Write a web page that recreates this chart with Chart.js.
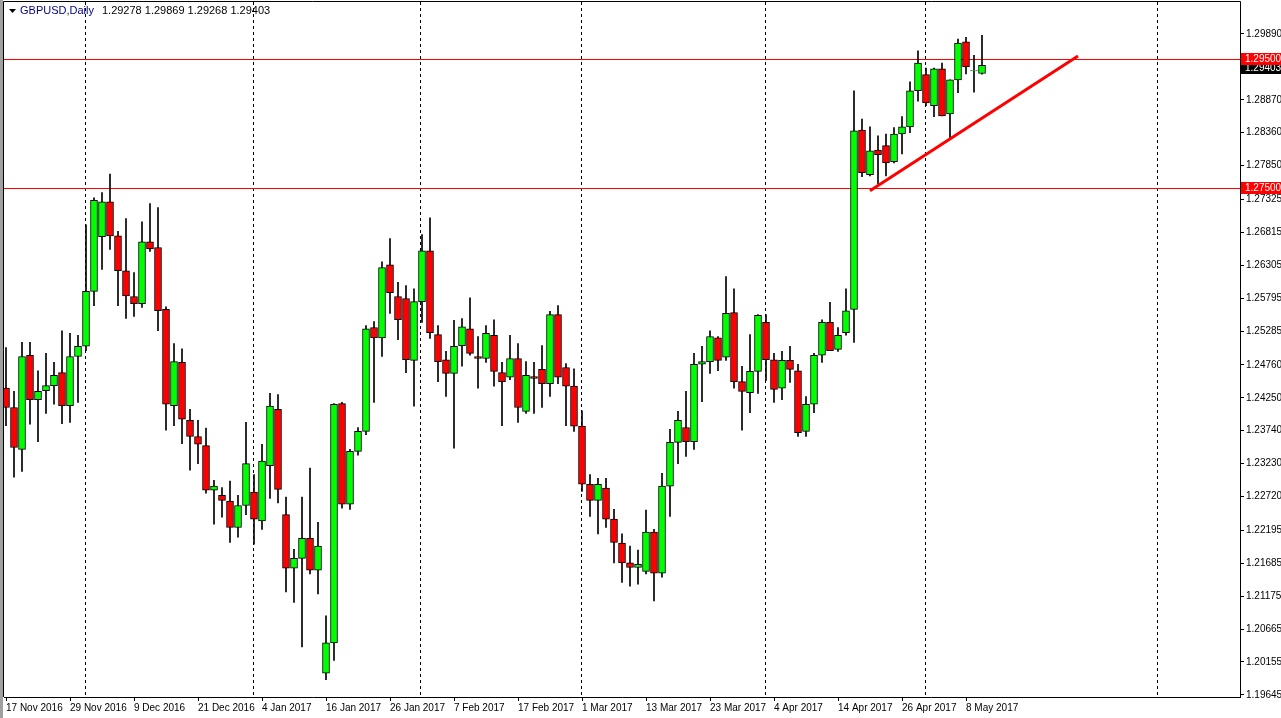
<!DOCTYPE html>
<html>
<head>
<meta charset="utf-8">
<script src="https://cdn.jsdelivr.net/npm/chart.js@4"></script>
<style>
  html, body { margin: 0; padding: 0; background: #fff; }
  #wrap { width: 1281px; height: 718px; position: relative; }
  #wrap::before { content: ""; position: absolute; left: 0; top: 0; width: 3px; height: 718px; background: #a0a0a0; }
</style>
</head>
<body>
<div id="wrap"><canvas id="myChart" width="1281" height="718"></canvas></div>
<script>
// GBPUSD daily, 17 Nov 2016 -> 10 May 2017
const opens = [
  1.2440, 1.2410, 1.2345, 1.2491, 1.2422, 1.2436, 1.2444, 1.2464, 1.2413, 1.2489,
  1.2505, 1.2590, 1.2675, 1.2729, 1.2676, 1.2622, 1.2582, 1.2571, 1.2667, 1.2658,
  1.2562, 1.2413, 1.2480, 1.2390, 1.2365, 1.2351, 1.2282, 1.2274, 1.2265, 1.2224,
  1.2258, 1.2279, 1.2234, 1.2320, 1.2407, 1.2244, 1.2161, 1.2176, 1.2207, 1.2158,
  1.1998, 1.2045, 1.2416, 1.2260, 1.2342, 1.2373, 1.2534, 1.2518, 1.2631, 1.2582,
  1.2579, 1.2483, 1.2574, 1.2653, 1.2523, 1.2484, 1.2463, 1.2506, 1.2532, 1.2489,
  1.2486, 1.2522, 1.2464, 1.2457, 1.2486, 1.2404, 1.2458, 1.2469, 1.2447, 1.2554,
  1.2472, 1.2443, 1.2381, 1.2291, 1.2266, 1.2285, 1.2237, 1.2200, 1.2169, 1.2162,
  1.2156, 1.2217, 1.2153, 1.2288, 1.2356, 1.2379, 1.2357, 1.2477, 1.2481, 1.2518,
  1.2488, 1.2557, 1.2450, 1.2433, 1.2466, 1.2542, 1.2484, 1.2440, 1.2483, 1.2467,
  1.2373, 1.2415, 1.2491, 1.2542, 1.2500, 1.2526, 1.2562, 1.2840, 1.2771, 1.2809,
  1.2816, 1.2791, 1.2834, 1.2845, 1.2901, 1.2926, 1.2878, 1.2935, 1.2865, 1.2918,
  1.2977, 1.2932, 1.29278
];
const highs = [
  1.2503, 1.2435, 1.2511, 1.2511, 1.2467, 1.2494, 1.2480, 1.2529, 1.2525, 1.2522,
  1.2693, 1.2735, 1.2743, 1.2772, 1.2683, 1.2703, 1.2619, 1.2698, 1.2726, 1.2720,
  1.2566, 1.2509, 1.2501, 1.2407, 1.2390, 1.2378, 1.2297, 1.2286, 1.2296, 1.2274,
  1.2387, 1.2306, 1.2353, 1.2432, 1.2430, 1.2271, 1.2190, 1.2271, 1.2316, 1.2232,
  1.2087, 1.2416, 1.2418, 1.2345, 1.2379, 1.2537, 1.2543, 1.2636, 1.2672, 1.2604,
  1.2599, 1.2594, 1.2678, 1.2704, 1.2537, 1.2497, 1.2545, 1.2548, 1.2580, 1.2520,
  1.2537, 1.2546, 1.2480, 1.2522, 1.2509, 1.2481, 1.2480, 1.2506, 1.2559, 1.2568,
  1.2478, 1.2470, 1.2405, 1.2306, 1.2300, 1.2300, 1.2252, 1.2214, 1.2195, 1.2189,
  1.2251, 1.2221, 1.2308, 1.2376, 1.2404, 1.2435, 1.2494, 1.2505, 1.2529, 1.2520,
  1.2613, 1.2594, 1.2474, 1.2523, 1.2554, 1.2554, 1.2494, 1.2497, 1.2505, 1.2477,
  1.2427, 1.2494, 1.2546, 1.2573, 1.2534, 1.2594, 1.2901, 1.2857, 1.2845, 1.2831,
  1.2834, 1.2844, 1.2861, 1.2915, 1.2963, 1.2936, 1.2936, 1.2944, 1.2918, 1.2981,
  1.2984, 1.2956, 1.29869
];
const lows = [
  1.2382, 1.2302, 1.2311, 1.2384, 1.2357, 1.2401, 1.2415, 1.2385, 1.2387, 1.2418,
  1.2498, 1.2568, 1.2624, 1.2655, 1.2568, 1.2548, 1.2551, 1.2565, 1.2652, 1.2529,
  1.2375, 1.2382, 1.2354, 1.2313, 1.2323, 1.2277, 1.2229, 1.2240, 1.2201, 1.2209,
  1.2244, 1.2198, 1.2221, 1.2269, 1.2262, 1.2124, 1.2108, 1.2039, 1.2152, 1.2121,
  1.1988, 1.2018, 1.2254, 1.2252, 1.2336, 1.2368, 1.2418, 1.2489, 1.2556, 1.2515,
  1.2464, 1.2412, 1.2542, 1.2517, 1.2450, 1.2427, 1.2347, 1.2474, 1.2491, 1.2440,
  1.2480, 1.2443, 1.2382, 1.2453, 1.2387, 1.2401, 1.2401, 1.2410, 1.2427, 1.2447,
  1.2382, 1.2373, 1.2280, 1.2241, 1.2214, 1.2224, 1.2169, 1.2139, 1.2133, 1.2136,
  1.2152, 1.2110, 1.2147, 1.2241, 1.2323, 1.2334, 1.2345, 1.2419, 1.2463, 1.2467,
  1.2483, 1.2440, 1.2375, 1.2402, 1.2432, 1.2452, 1.2418, 1.2422, 1.2449, 1.2365,
  1.2365, 1.2402, 1.2480, 1.2498, 1.2497, 1.2522, 1.2511, 1.2768, 1.2769, 1.2757,
  1.2769, 1.2789, 1.2803, 1.2836, 1.2885, 1.2878, 1.2861, 1.2862, 1.2828, 1.2898,
  1.2927, 1.2899, 1.29268
];
const closes = [
  1.2410, 1.2348, 1.2489, 1.2422, 1.2435, 1.2444, 1.2460, 1.2413, 1.2489, 1.2505,
  1.2590, 1.2731, 1.2729, 1.2676, 1.2622, 1.2583, 1.2571, 1.2667, 1.2656, 1.2560,
  1.2415, 1.2481, 1.2392, 1.2365, 1.2353, 1.2282, 1.2288, 1.2266, 1.2224, 1.2258,
  1.2323, 1.2237, 1.2327, 1.2412, 1.2283, 1.2161, 1.2176, 1.2207, 1.2158, 1.2195,
  1.2045, 1.2415, 1.2260, 1.2342, 1.2373, 1.2532, 1.2518, 1.2627, 1.2588, 1.2546,
  1.2484, 1.2574, 1.2653, 1.2526, 1.2481, 1.2463, 1.2505, 1.2535, 1.2494, 1.2486,
  1.2525, 1.2466, 1.2450, 1.2486, 1.2410, 1.2460, 1.2455, 1.2447, 1.2554, 1.2457,
  1.2443, 1.2381, 1.2291, 1.2266, 1.2291, 1.2237, 1.2201, 1.2169, 1.2162, 1.2167,
  1.2217, 1.2153, 1.2288, 1.2356, 1.2390, 1.2357, 1.2477, 1.2481, 1.2520, 1.2483,
  1.2556, 1.2450, 1.2435, 1.2466, 1.2553, 1.2484, 1.2438, 1.2483, 1.2469, 1.2371,
  1.2415, 1.2491, 1.2542, 1.2498, 1.2522, 1.2560, 1.2839, 1.2774, 1.2808, 1.2802,
  1.2789, 1.2834, 1.2845, 1.2901, 1.2944, 1.2882, 1.2935, 1.2862, 1.2918, 1.2975,
  1.2938, 1.2932, 1.29403
];

// bottom axis: one label every 8 bars
const dateLabels = ['17 Nov 2016', '29 Nov 2016', '9 Dec 2016', '21 Dec 2016', '4 Jan 2017',
  '16 Jan 2017', '26 Jan 2017', '7 Feb 2017', '17 Feb 2017', '1 Mar 2017', '13 Mar 2017',
  '23 Mar 2017', '4 Apr 2017', '14 Apr 2017', '26 Apr 2017', '8 May 2017'];
const priceTicks = [1.29890, 1.28870, 1.28360, 1.27850, 1.27325, 1.26815, 1.26305, 1.25795,
  1.25285, 1.24760, 1.24250, 1.23740, 1.23230, 1.22720, 1.22195, 1.21685, 1.21175,
  1.20665, 1.20155, 1.19645];
// month separators (bar index where each month starts)
const monthLines = [9.9, 30.9, 51.75, 71.9, 94.9, 114.9, 143.9];
const levels = [1.2950, 1.2750];
const trendLine = [{ x: 108, y: 1.2746 }, { x: 134, y: 1.2955 }];

const BULL = '#00ff00';
const BEAR = '#ff0000';
const FONT = '"Liberation Sans", Arial, sans-serif';

const wicks = opens.map((o, i) => ({ x: i, y: [lows[i], highs[i]] }));
const bodies = opens.map((o, i) => {
  const c = closes[i];
  const y = Math.abs(c - o) < 0.00004 ? [o - 0.00003, o + 0.00003] : [o, c];
  return { x: i, y };
});
const bodyColors = opens.map((o, i) => closes[i] >= o ? BULL : BEAR);

const overlay = {
  id: 'overlay',
  beforeDatasetsDraw(chart) {
    const { ctx, chartArea: a, scales: { x, y } } = chart;
    ctx.save();
    ctx.strokeStyle = '#000';
    ctx.lineWidth = 1;
    ctx.setLineDash([3, 3]);
    monthLines.forEach((m) => {
      const px = Math.round(x.getPixelForValue(m)) + 0.5;
      ctx.beginPath();
      ctx.moveTo(px, 2);
      ctx.lineTo(px, a.bottom);
      ctx.stroke();
    });
    ctx.setLineDash([]);
    ctx.strokeStyle = '#ff0000';
    levels.forEach((lv) => {
      const py = Math.round(y.getPixelForValue(lv)) + 0.5;
      ctx.beginPath();
      ctx.moveTo(a.left, py);
      ctx.lineTo(a.right, py);
      ctx.stroke();
    });
    ctx.restore();
  },
  afterDraw(chart) {
    const { ctx, chartArea: a, scales: { x, y } } = chart;
    ctx.save();
    // frame top and left
    ctx.strokeStyle = '#000';
    ctx.lineWidth = 1;
    ctx.beginPath();
    ctx.moveTo(a.left - 0.5, a.bottom);
    ctx.lineTo(a.left - 0.5, 1.5);
    ctx.lineTo(a.right + 0.5, 1.5);
    ctx.lineTo(a.right + 0.5, a.top);
    ctx.stroke();

    // trend line
    ctx.strokeStyle = '#ff0000';
    ctx.lineWidth = 3;
    ctx.beginPath();
    ctx.moveTo(x.getPixelForValue(trendLine[0].x), y.getPixelForValue(trendLine[0].y));
    ctx.lineTo(x.getPixelForValue(trendLine[1].x), y.getPixelForValue(trendLine[1].y));
    ctx.stroke();

    // price tags on the axis
    ctx.font = '10px ' + FONT;
    ctx.textBaseline = 'middle';
    const tag = (v, bg, txt, dy) => {
      const py = Math.round(y.getPixelForValue(v)) + dy;
      ctx.fillStyle = bg;
      ctx.fillRect(a.right + 1, py - 6, 40, 12);
      ctx.fillStyle = txt;
      ctx.fillText(v.toFixed(5), a.right + 5, py + 0.5);
    };
    tag(closes[closes.length - 1], '#000', '#fff', 3);
    levels.forEach((lv) => tag(lv, '#ff0000', '#fff', 0));

    // header
    ctx.fillStyle = '#000';
    ctx.beginPath();
    ctx.moveTo(9, 9); ctx.lineTo(16, 9); ctx.lineTo(12.5, 13); ctx.closePath();
    ctx.fill();
    ctx.font = '11px ' + FONT;
    ctx.fillStyle = '#000080';
    const title = 'GBPUSD,Daily';
    ctx.fillText(title, 20, 11);
    const tw = ctx.measureText(title).width;
    ctx.fillStyle = '#000';
    const n = opens.length - 1;
    ctx.fillText([opens[n], highs[n], lows[n], closes[n]].map(v => v.toFixed(5)).join(' '), 20 + tw + 8, 11);
    ctx.restore();
  }
};

const chart = document.getElementById('myChart');
const myChart = new Chart(chart, {
  type: 'bar',
  data: {
    datasets: [
      { data: wicks, backgroundColor: '#000', barThickness: 1, grouped: false, order: 2 },
      { data: bodies, backgroundColor: bodyColors, borderColor: '#000', borderWidth: 1,
        borderSkipped: false, barThickness: 7, grouped: false, order: 1 }
    ]
  },
  options: {
    responsive: false,
    animation: false,
    layout: { padding: { left: 4, top: 2, right: 0, bottom: 0 } },
    plugins: { legend: { display: false }, tooltip: { enabled: false } },
    scales: {
      x: {
        type: 'linear',
        offset: false,
        min: -0.25,
        max: 154.25,
        afterBuildTicks: (s) => { s.ticks = dateLabels.map((d, i) => ({ value: i * 8 })); },
        afterFit: (s) => { s.height = 21; },
        ticks: {
          align: 'start',
          maxRotation: 0,
          autoSkip: false,
          padding: 1,
          color: '#000',
          font: { family: FONT, size: 10 },
          callback: (v) => dateLabels[v / 8]
        },
        grid: { drawOnChartArea: false, offset: false, tickLength: 4, color: '#000' },
        border: { color: '#000' }
      },
      y: {
        position: 'right',
        min: 1.19612,
        max: 1.30293,
        afterBuildTicks: (s) => { s.ticks = priceTicks.map(v => ({ value: v })); },
        afterFit: (s) => { s.width = 41; },
        ticks: {
          padding: 2,
          color: '#000',
          font: { family: FONT, size: 10 },
          callback: (v) => v.toFixed(5)
        },
        grid: { drawOnChartArea: false, tickLength: 4, color: '#000' },
        border: { color: '#000' }
      }
    }
  },
  plugins: [overlay]
});
</script>
</body>
</html>
